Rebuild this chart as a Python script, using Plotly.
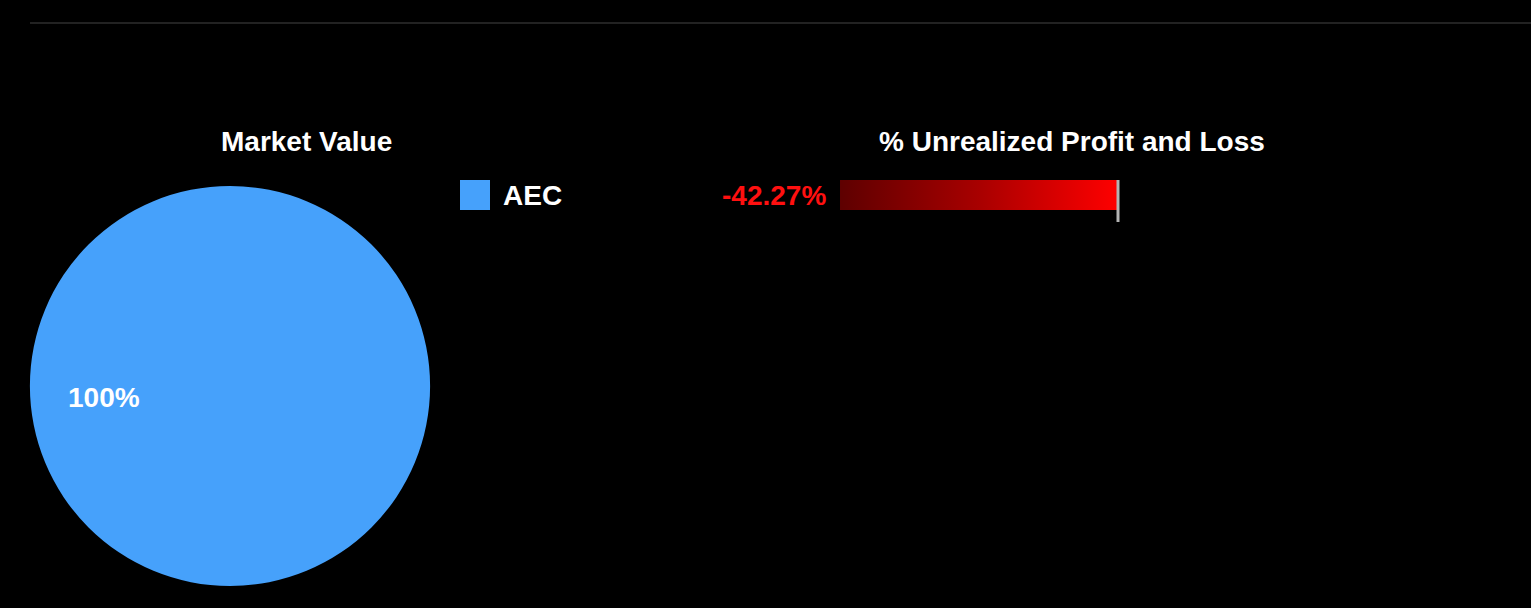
import plotly.graph_objects as go

# ---- data ----
symbols = ["AEC"]
market_values = [1.0]
pnl_pct = [-42.27]
pie_colors = ["#46a1fb"]

W, H = 1531, 608
FONT = "Liberation Sans, Arial, Helvetica, sans-serif"
FS = 28

def px_x(p):
    return p / W

def px_y(p):
    return 1 - p / H

fig = go.Figure()

# Pie
fig.add_trace(go.Pie(
    labels=symbols, values=market_values,
    marker=dict(colors=pie_colors, line=dict(width=0)),
    textinfo="none", hoverinfo="label+percent", sort=False,
    domain=dict(x=[px_x(30), px_x(430)], y=[px_y(586), px_y(186)]),
    showlegend=False,
))

# P&L bar drawn as filled area with horizontal gradient
v = pnl_pct[0]
half = 0.4
fig.add_trace(go.Scatter(
    x=[v, 0, 0, v, v], y=[-half, -half, half, half, -half],
    mode="none", fill="toself",
    fillgradient=dict(type="horizontal",
                      colorscale=[[0, "#5e0000"], [0.5, "#a80000"], [1, "#ff0000"]]),
    showlegend=False, hoverinfo="skip",
    xaxis="x", yaxis="y",
))

# Axes for bar: pixels 840 -> -42.27, 1118 -> 0
zero_px = 1118
scale = (zero_px - 840) / abs(v)  # px per unit
x0px, x1px = 700, 1444
xr = [-(zero_px - x0px) / scale, (x1px - zero_px) / scale]
ytop_px, ybot_px = 180, 222
yscale = 30 / (2 * half)
yr = [half - (ybot_px - ytop_px) / yscale, half]

fig.update_layout(
    xaxis=dict(domain=[px_x(x0px), px_x(x1px)], range=xr, showgrid=False,
               showticklabels=False, ticks="", zeroline=False, fixedrange=True),
    yaxis=dict(domain=[px_y(ybot_px), px_y(ytop_px)], range=yr, showgrid=False,
               showticklabels=False, ticks="", zeroline=False, fixedrange=True),
)

annotations = []
# percentage label on pie
total = sum(market_values)
annotations.append(dict(
    text=f"{100 * market_values[0] / total:.0f}%", x=px_x(104), y=px_y(397),
    xref="paper", yref="paper", showarrow=False, xanchor="center", yanchor="middle",
    font=dict(family=FONT, size=FS, color="white", weight="bold")))
# titles
annotations.append(dict(
    text="Market Value", x=px_x(306), y=px_y(141), xref="paper", yref="paper",
    showarrow=False, xanchor="center", yanchor="middle",
    font=dict(family=FONT, size=FS, color="white", weight="bold")))
annotations.append(dict(
    text="% Unrealized Profit and Loss", x=px_x(1072), y=px_y(141), xref="paper", yref="paper",
    showarrow=False, xanchor="center", yanchor="middle",
    font=dict(family=FONT, size=FS, color="white", weight="bold")))
# legend text
annotations.append(dict(
    text=symbols[0], x=px_x(501), y=px_y(195), xref="paper", yref="paper",
    showarrow=False, xanchor="left", yanchor="middle",
    font=dict(family=FONT, size=FS, color="white", weight="bold")))
# value label
annotations.append(dict(
    text=f"{v:.2f}%", x=v, y=0, xref="x", yref="y", xshift=-12,
    showarrow=False, xanchor="right", yanchor="middle",
    font=dict(family=FONT, size=FS, color="#ff1010", weight="bold")))

shapes = [
    dict(type="line", xref="paper", yref="paper", x0=px_x(30), x1=1, y0=px_y(23), y1=px_y(23),
         line=dict(color="#444444", width=1)),
    dict(type="rect", xref="paper", yref="paper", x0=px_x(460), x1=px_x(490),
         y0=px_y(210), y1=px_y(180), fillcolor=pie_colors[0], line=dict(width=0)),
    dict(type="line", xref="x", yref="y domain", x0=0, x1=0, y0=0, y1=1,
         line=dict(color="#b4b4b4", width=3), layer="above"),
]

fig.update_layout(
    width=W, height=H, autosize=False,
    margin=dict(l=0, r=0, t=0, b=0),
    paper_bgcolor="black", plot_bgcolor="black",
    annotations=annotations, shapes=shapes,
    showlegend=False,
)

fig.write_html(
    "out.html", config={"displayModeBar": False},
    post_script="document.body.style.margin='0';document.body.style.background='black';"
                "document.documentElement.style.background='black';",
)
